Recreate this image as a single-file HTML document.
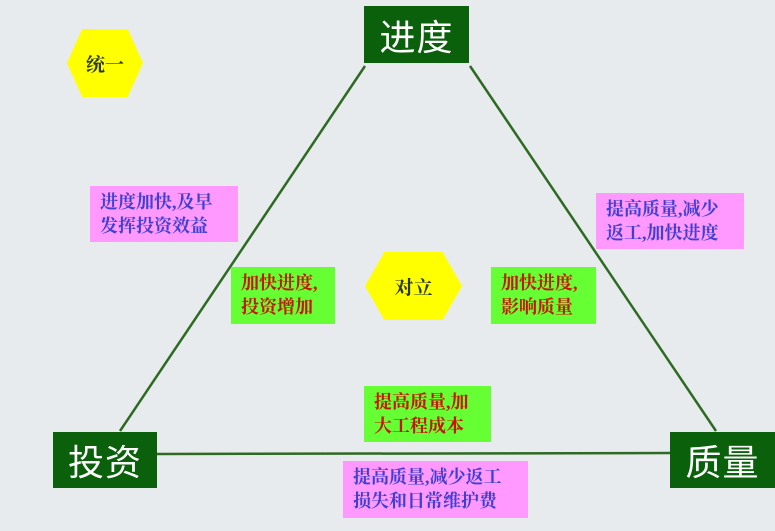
<!DOCTYPE html>
<html><head><meta charset="utf-8"><style>
body{margin:0;width:775px;height:531px;background:#e8ebed;position:relative;overflow:hidden;font-family:"Liberation Serif","Noto Serif CJK SC",serif;}
.big{position:absolute;background:#0b600b;color:#fff;font-family:"Liberation Sans","Noto Sans CJK SC",sans-serif;font-size:36px;display:flex;align-items:center;justify-content:center;letter-spacing:1px}
.bx{position:absolute;font-size:18px;font-weight:bold;line-height:24px;box-sizing:border-box;padding:4px 0 0 10px;white-space:nowrap}
.pk{background:#ff99ff;color:#3f3fd0}
.gr{background:#66ff33;color:#cc1100}
.hex{position:absolute;background:#ffff00;clip-path:polygon(20% 0,80% 0,100% 50%,80% 100%,20% 100%,0 50%);display:flex;align-items:center;justify-content:center;font-size:19px;font-weight:bold;color:#2a3a2a}
</style></head><body>
<svg width="775" height="531" style="position:absolute;left:0;top:0">
<line x1="365" y1="66" x2="120" y2="431" stroke="#2d6a22" stroke-width="2.5"/>
<line x1="470" y1="66" x2="716" y2="431" stroke="#2d6a22" stroke-width="2.5"/>
<line x1="157" y1="454" x2="671" y2="453" stroke="#2d6a22" stroke-width="2.5"/>
</svg>
<div class="big" style="left:364px;top:6px;width:105px;height:57px">进度</div>
<div class="big" style="left:53px;top:432px;width:104px;height:56px">投资</div>
<div class="big" style="left:670px;top:432px;width:105px;height:56px">质量</div>
<div class="hex" style="left:67px;top:29px;width:76px;height:68px">统一</div>
<div class="hex" style="left:365px;top:252px;width:97px;height:68px">对立</div>
<div class="bx pk" style="left:90px;top:186px;width:148px;height:56px">进度加快,及早<br>发挥投资效益</div>
<div class="bx pk" style="left:596px;top:193px;width:148px;height:56px">提高质量,减少<br>返工,加快进度</div>
<div class="bx gr" style="left:231px;top:267px;width:104px;height:57px">加快进度,<br>投资增加</div>
<div class="bx gr" style="left:491px;top:267px;width:105px;height:57px">加快进度,<br>影响质量</div>
<div class="bx gr" style="left:364px;top:386px;width:127px;height:56px">提高质量,加<br>大工程成本</div>
<div class="bx pk" style="left:343px;top:461px;width:185px;height:57px">提高质量,减少返工<br>损失和日常维护费</div>
</body></html>
